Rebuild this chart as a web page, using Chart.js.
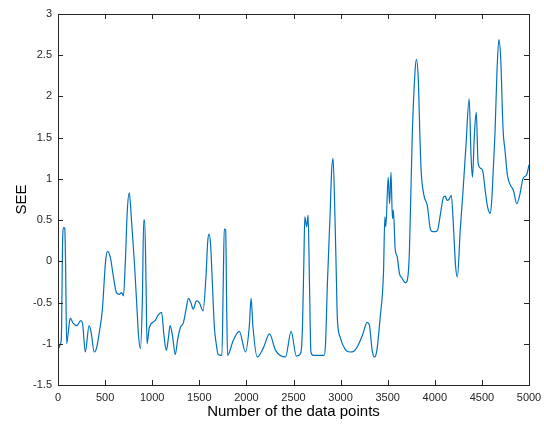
<html lang="en">
<head>
  <meta charset="utf-8">
  <title>SEE</title>
  <style>
    html, body { margin: 0; padding: 0; background: #fff; }
    #wrap { width: 544px; height: 425px; }
  </style>
</head>
<body>
  <div id="wrap">
    <canvas id="myChart" width="544" height="425"></canvas>
  </div>
  <script src="https://cdn.jsdelivr.net/npm/chart.js"></script>
  <script>
    // data points
    const pointIndex = [0, 10, 25, 35, 50, 58, 72, 80, 92, 110, 130, 160, 200, 240, 260, 290, 330, 350, 385, 410,
      440, 470, 505, 525, 555, 590, 620, 650, 675, 695, 715, 735, 757, 780, 810, 835, 855, 875, 895, 910,
      920, 935, 945, 970, 1030, 1065, 1100, 1125, 1150, 1170, 1190, 1215, 1245, 1270, 1300, 1330, 1360, 1385, 1410, 1435,
      1470, 1500, 1540, 1570, 1590, 1605, 1620, 1640, 1660, 1680, 1700, 1740, 1755, 1765, 1780, 1790, 1800, 1860, 1925, 1990,
      2030, 2050, 2070, 2115, 2180, 2245, 2310, 2415, 2475, 2530, 2575, 2595, 2610, 2620, 2640, 2655, 2670, 2685, 2710, 2825,
      2840, 2860, 2890, 2905, 2920, 2940, 2955, 2965, 2995, 3050, 3100, 3140, 3185, 3240, 3280, 3305, 3335, 3360, 3385, 3420,
      3455, 3470, 3480, 3505, 3520, 3535, 3550, 3560, 3580, 3600, 3625, 3650, 3670, 3690, 3710, 3730, 3760, 3790, 3805, 3825,
      3840, 3855, 3885, 3920, 3955, 3980, 4005, 4030, 4055, 4090, 4110, 4130, 4150, 4175, 4200, 4220, 4240, 4270, 4300, 4330,
      4365, 4385, 4400, 4420, 4440, 4460, 4485, 4510, 4535, 4560, 4590, 4605, 4620, 4640, 4660, 4680, 4700, 4725, 4745, 4770,
      4800, 4835, 4870, 4905, 4935, 4975, 5000];
    const seeValues = [-0.93, -1.05, -1.0, -0.95, 0.3, 0.41, 0.40, 0.0, -1.0, -0.85, -0.69, -0.75, -0.78, -0.72, -0.75, -1.1, -0.78, -0.85, -1.1, -1.05,
      -0.85, -0.6, 0.0, 0.12, 0.05, -0.2, -0.38, -0.4, -0.38, -0.42, 0.0, 0.6, 0.83, 0.5, 0.0, -0.5, -0.9, -1.06, -0.5, 0.5,
      0.5, -0.3, -1.0, -0.8, -0.72, -0.65, -0.62, -0.9, -1.08, -0.95, -0.78, -0.9, -1.13, -0.95, -0.8, -0.75, -0.58, -0.45, -0.5, -0.58,
      -0.48, -0.5, -0.6, -0.2, 0.25, 0.33, 0.2, -0.3, -0.8, -1.0, -1.13, -1.14, -0.2, 0.39, 0.38, -0.5, -1.14, -0.96, -0.85, -1.1,
      -0.8, -0.45, -0.8, -1.16, -1.05, -0.88, -1.08, -1.16, -0.85, -1.15, -1.12, -0.81, 0.0, 0.54, 0.42, 0.56, -0.3, -1.1, -1.14, -1.14,
      -1.0, -0.27, 0.62, 1.1, 1.25, 0.54, -0.19, -0.68, -0.92, -1.07, -1.10, -1.09, -1.02, -0.87, -0.74, -0.77, -1.08, -1.16, -1.08, -0.68,
      -0.15, 0.54, 0.42, 1.02, 0.70, 1.08, 0.52, 0.62, 0.14, 0.06, -0.15, -0.2, -0.24, -0.26, -0.22, 0.1, 1.5, 2.3, 2.45, 2.2,
      1.59, 1.1, 0.8, 0.68, 0.38, 0.36, 0.36, 0.38, 0.54, 0.77, 0.79, 0.74, 0.75, 0.8, 0.38, -0.05, -0.19, 0.38, 0.86, 1.39,
      1.97, 1.27, 1.02, 1.53, 1.81, 1.19, 1.13, 1.09, 0.86, 0.66, 0.58, 0.75, 1.1, 1.59, 2.3, 2.69, 2.45, 1.59, 1.35, 1.05,
      0.93, 0.86, 0.70, 0.82, 1.0, 1.05, 1.17];
    const xTicks = [0, 500, 1000, 1500, 2000, 2500, 3000, 3500, 4000, 4500, 5000];
    const yTicks = [-1.5, -1, -0.5, 0, 0.5, 1, 1.5, 2, 2.5, 3];

    // matlab style box with inward ticks
    const boxPlugin = {
      id: 'box',
      afterDraw(chart) {
        const { ctx, chartArea: a, scales } = chart;
        ctx.save();
        ctx.strokeStyle = '#262626';
        ctx.lineWidth = 1;
        ctx.beginPath();
        xTicks.forEach(v => {
          const px = Math.round(scales.x.getPixelForValue(v)) + 0.5;
          ctx.moveTo(px, a.bottom); ctx.lineTo(px, a.bottom - 5);
          ctx.moveTo(px, a.top); ctx.lineTo(px, a.top + 5);
        });
        yTicks.forEach(v => {
          const py = Math.round(scales.y.getPixelForValue(v)) + 0.5;
          ctx.moveTo(a.left, py); ctx.lineTo(a.left + 5, py);
          ctx.moveTo(a.right, py); ctx.lineTo(a.right - 5, py);
        });
        ctx.stroke();
        ctx.strokeRect(Math.round(a.left) + 0.5, Math.round(a.top) + 0.5,
          Math.round(a.right - a.left), Math.round(a.bottom - a.top));
        ctx.restore();
      }
    };

    const font = 'Arial, "Liberation Sans", Helvetica, sans-serif';
    const ctx = document.getElementById('myChart');
    const myChart = new Chart(ctx, {
      type: 'line',
      data: {
        datasets: [{
          data: pointIndex.map((x, i) => ({ x: x, y: seeValues[i] })),
          borderColor: '#0072BD',
          borderWidth: 1.2,
          pointRadius: 0,
          fill: false,
          cubicInterpolationMode: 'monotone'
        }]
      },
      options: {
        responsive: false,
        animation: false,
        layout: { padding: { top: 14, right: 15, left: 0, bottom: 0 } },
        plugins: { legend: { display: false }, tooltip: { enabled: false } },
        scales: {
          x: {
            type: 'linear', min: 0, max: 5000,
            afterBuildTicks: s => { s.ticks = xTicks.map(v => ({ value: v })); },
            afterFit: s => { s.height = 40; s.paddingLeft = 0; s.paddingRight = 0; },
            grid: { display: false, drawTicks: false }, border: { display: false },
            ticks: { padding: 6, color: '#262626', font: { family: font, size: 11 }, maxRotation: 0,
              callback: v => String(v) },
            title: { display: true, text: 'Number of the data points', color: '#000',
              font: { family: font, size: 15 } }
          },
          y: {
            min: -1.5, max: 3,
            afterBuildTicks: s => { s.ticks = yTicks.map(v => ({ value: v })); },
            afterFit: s => { s.width = 58; s.paddingTop = 0; s.paddingBottom = 0; },
            grid: { display: false, drawTicks: false }, border: { display: false },
            ticks: { padding: 6, color: '#262626', font: { family: font, size: 11 },
              callback: v => String(v) },
            title: { display: true, text: 'SEE', color: '#000', padding: { top: 13, bottom: 4 },
              font: { family: font, size: 15 } }
          }
        }
      },
      plugins: [boxPlugin]
    });
  </script>
</body>
</html>
